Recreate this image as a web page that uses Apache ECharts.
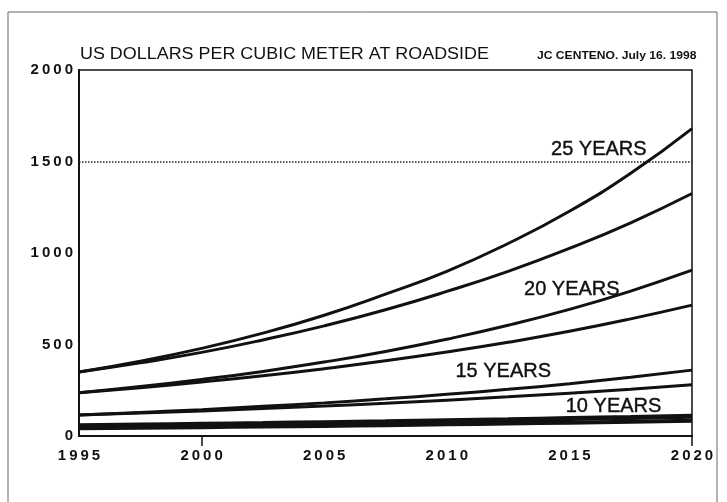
<!DOCTYPE html>
<html>
<head>
<meta charset="utf-8">
<script src="https://cdn.jsdelivr.net/npm/echarts@6/dist/echarts.min.js"></script>
<style>
  html, body { margin: 0; padding: 0; background: #fff; }
  #chart { width: 727px; height: 502px; }
</style>
</head>
<body>
<div id="chart"></div>
<script>
  // 横坐标: 年份 (每 2.5 年读一个点)
  var years = [1995, 1997.5, 2000, 2002.5, 2005, 2007.5, 2010, 2012.5, 2015, 2017.5, 2020]
  var xTicks = [1995, 2000, 2005, 2010, 2015, 2020]
  var yTicks = [0, 500, 1000, 1500, 2000]

  // 25 年 (两条线)
  var y25High = [350, 409, 479, 562, 660, 775, 900, 1052, 1228, 1436, 1680]
  var y25Low = [350, 400, 457, 525, 602, 690, 790, 900, 1025, 1165, 1325]
  // 20 年
  var y20High = [236, 270, 309, 353, 404, 462, 529, 605, 692, 792, 906]
  var y20Low = [236, 264, 295, 329, 368, 411, 459, 512, 572, 640, 715]
  // 15 年
  var y15High = [115, 129, 144, 162, 181, 203, 228, 255, 286, 321, 360]
  var y15Low = [115, 126, 137, 150, 164, 179, 196, 214, 234, 256, 280]
  // 10 年
  var y10High = [56, 60, 64, 68, 73, 78, 84, 89, 95, 101, 108]
  var y10Low = [42, 45, 48, 52, 55, 59, 64, 68, 73, 78, 84]

  // 曲线旁的文字标注 [年, 值, 文字]
  var curveLabels = [
    [2016.2, 1566, '25 YEARS'],
    [2015.1, 802, '20 YEARS'],
    [2012.3, 351, '15 YEARS'],
    [2016.8, 160, '10 YEARS']
  ]

  var ink = '#111'
  var chart = echarts.init(document.getElementById('chart'))

  // 生成一条线
  function line(values, width) {
    return {
      type: 'line',
      smooth: true,
      symbol: 'none',
      data: years.map(function (y, i) { return [y, values[i]] }),
      lineStyle: { color: ink, width: width },
      animation: false
    }
  }

  var series = [
    line(y25High, 3), line(y25Low, 3),
    line(y20High, 3), line(y20Low, 3),
    line(y15High, 3), line(y15Low, 3),
    line(y10High, 5), line(y10Low, 4)
  ]

  // 1500 处的虚线 + 曲线标注
  series[0].markLine = {
    silent: true,
    symbol: 'none',
    label: { show: false },
    lineStyle: { color: '#222', type: 'dotted', width: 1.5 },
    data: [{ yAxis: 1500 }]
  }
  series[0].markPoint = {
    silent: true,
    symbol: 'rect',
    symbolSize: 0,
    label: {
      show: true,
      position: 'inside',
      color: ink,
      fontFamily: 'Liberation Sans',
      fontSize: 20,
      textBorderColor: ink,
      textBorderWidth: 0.4,
      formatter: function (p) { return p.name }
    },
    data: curveLabels.map(function (c) { return { coord: [c[0], c[1]], name: c[2] } })
  }

  // 数字之间加细空格, 模仿原图的宽字距
  function spaced(v) { return String(v).split('').join('\u2009') }

  chart.setOption({
    backgroundColor: '#fff',
    grid: {
      left: 79,
      right: 35,
      top: 70,
      bottom: 66,
      show: true,
      borderColor: ink,
      borderWidth: 1.5
    },
    xAxis: {
      type: 'value',
      min: xTicks[0],
      max: xTicks[xTicks.length - 1],
      interval: 5,
      axisLine: { show: true, lineStyle: { color: ink, width: 2 } },
      axisTick: { show: true, customValues: [2000, 2020], length: 10, lineStyle: { color: ink, width: 1.5 } },
      splitLine: { show: false },
      axisLabel: {
        margin: 12,
        color: ink,
        fontFamily: 'Liberation Sans',
        fontWeight: 'bold',
        fontSize: 15,
        formatter: spaced
      }
    },
    yAxis: {
      type: 'value',
      min: yTicks[0],
      max: yTicks[yTicks.length - 1],
      interval: 500,
      axisLine: { show: true, lineStyle: { color: ink, width: 2 } },
      axisTick: { show: false },
      splitLine: { show: false },
      axisLabel: {
        margin: 6,
        color: ink,
        fontFamily: 'Liberation Sans',
        fontWeight: 'bold',
        fontSize: 15,
        formatter: spaced
      }
    },
    graphic: [
      // 扫描件外框
      {
        type: 'rect',
        silent: true,
        shape: { x: 8, y: 12, width: 709, height: 500 },
        style: { fill: 'none', stroke: '#666', lineWidth: 1 }
      },
      {
        type: 'text',
        x: 80,
        y: 47,
        scaleX: 1.12,
        style: {
          text: 'US DOLLARS PER CUBIC METER AT ROADSIDE',
          fill: ink,
          font: '16px "Liberation Sans"'
        }
      },
      {
        type: 'text',
        x: 537,
        y: 50,
        scaleX: 1.1,
        style: {
          text: 'JC CENTENO. July 16. 1998',
          fill: ink,
          font: 'bold 11px "Liberation Sans"'
        }
      }
    ],
    series: series
  })
</script>
</body>
</html>
